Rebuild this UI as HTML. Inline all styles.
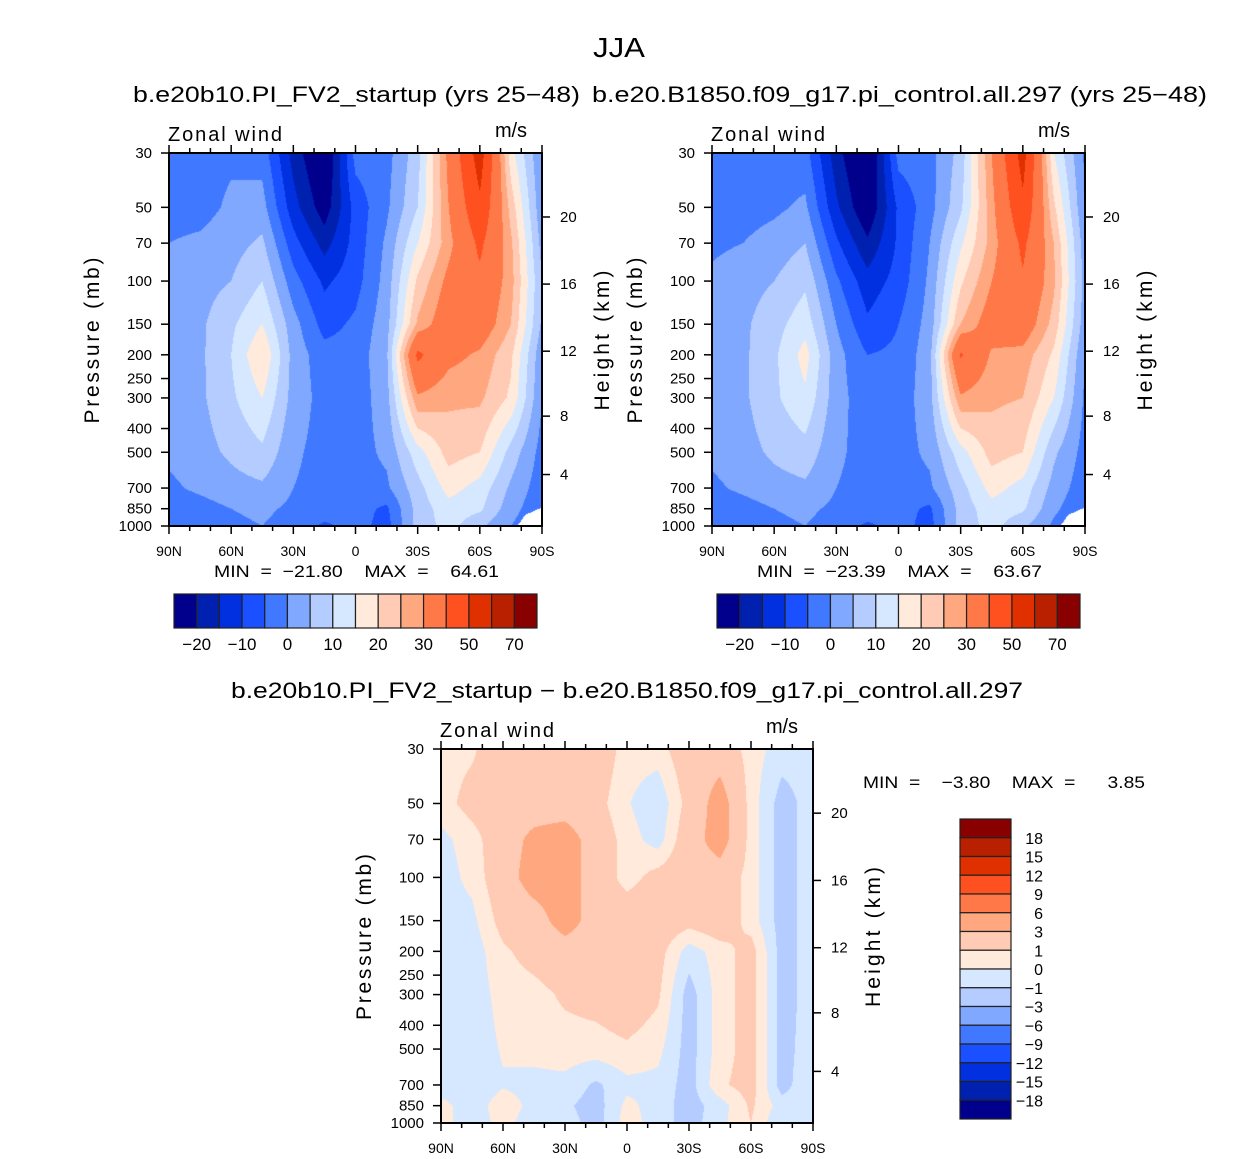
<!DOCTYPE html>
<html><head><meta charset="utf-8"><style>
body{margin:0;background:#fff;}
#wrap{position:relative;width:1256px;height:1159px;overflow:hidden;background:#fff;}
canvas{position:absolute;}
svg{position:absolute;left:0;top:0;}
text{font-family:"Liberation Sans",sans-serif;fill:#000;white-space:pre;}
</style></head><body>
<div id="wrap">
<canvas id="c1" style="left:169px;top:153px" width="373" height="373"></canvas>
<canvas id="c2" style="left:712px;top:153px" width="373" height="373"></canvas>
<canvas id="c3" style="left:441px;top:749px" width="372" height="374"></canvas>
<svg id="s" width="1256" height="1159">
<text x="619" y="57" font-size="28" text-anchor="middle" textLength="52" lengthAdjust="spacingAndGlyphs">JJA</text>
<text x="133" y="102" font-size="22" textLength="447" lengthAdjust="spacingAndGlyphs">b.e20b10.PI_FV2_startup (yrs 25−48)</text>
<text x="592" y="102" font-size="22" textLength="615" lengthAdjust="spacingAndGlyphs">b.e20.B1850.f09_g17.pi_control.all.297 (yrs 25−48)</text>
<text x="231" y="698" font-size="22" textLength="792" lengthAdjust="spacingAndGlyphs">b.e20b10.PI_FV2_startup − b.e20.B1850.f09_g17.pi_control.all.297</text>
<text x="214" y="577" font-size="17" textLength="285" lengthAdjust="spacingAndGlyphs">MIN  =  −21.80    MAX  =    64.61</text>
<text x="757" y="577" font-size="17" textLength="285" lengthAdjust="spacingAndGlyphs">MIN  =  −23.39    MAX  =    63.67</text>
<text x="863" y="788" font-size="17" textLength="282" lengthAdjust="spacingAndGlyphs">MIN  =    −3.80    MAX  =      3.85</text>
</svg>
</div>
<script>
// ---- data ----
const LATS=[90,75,60,45,30,15,0,-15,-30,-45,-60,-75,-90];
const PRES=[30,50,70,100,150,200,300,500,700,850,1000];
const U_CASE=[
[-2,-2,-1,-2,-17,-27,-3,-2,8,32,55,17,0],
[-2,-2,1,2,-13,-23,-8,-1,10,30,48,23,1],
[0,1,3,6,-8,-17,-8,1,15,28,42,26,3],
[2,3,5,10,-3,-11,-7,2,21,32,38,27,5],
[2,4,9,15,2,-7,-4,3,26,35,35,25,4],
[2,4,10,20,3,-3,-3,4,42,32,29,21,1],
[2,4,9,15,3,-2,-3,3,29,26,26,19,0],
[1,3,6,9,1,-2,-2,1,13,22,20,8,-2],
[-1,1,3,4,0,-2,-2,-1,8,17,13,4,-3],
[-3,-2,0,1,-1,-2,-3,-6,7,13,11,2,-4],
[-2,-3,-1,0,-2,-6,-3,-7,7,12,6,0,-5]];
const U_CTRL=[
[-3,-2,-2,-3,-18,-28,-3,-2,7,30,54,15,-1],
[-3,-2,-1,1,-14,-25,-9,-2,9,28,48,21,0],
[-1,0,2,5,-9,-19,-9,0,14,27,42,25,2],
[1,3,5,9,-4,-13,-8,1,19,30,39,26,3],
[2,4,8,13,0,-9,-5,2,25,34,35,23,2],
[2,4,9,17,2,-5,-4,3,41,29,28,19,0],
[2,4,9,14,2,-3,-3,3,29,26,25,15,-1],
[1,3,6,8,1,-2,-2,1,13,22,20,6,-2],
[-1,1,3,4,0,-2,-2,-1,8,17,13,3,-3],
[-3,-2,0,1,-1,-2,-3,-6,7,13,11,1,-4],
[-2,-3,-1,0,-2,-6,-3,-7,7,12,6,-1,-5]];
const U_DIFF=[
[0.5,0.8,2,2,2,2,0.5,0.5,2,2,0.5,-0.5,-0.5],
[0.5,1.5,2,2,2,1.5,0.1,-0.8,1.5,4,0.5,-1.5,-0.5],
[-0.3,0.5,2,3.5,4,2,0.5,-0.5,2,4,0.5,-1.5,-0.5],
[-0.5,0.3,2,4,4,2,0.5,1.5,2,2,0.5,-1.5,-0.5],
[-0.5,-0.3,1.5,2,4,2,2,2,1.5,2,0.5,-1.5,-0.5],
[-0.5,-0.6,0.8,1.5,2,2,2,1.5,-0.5,0.5,1.5,-1.5,-0.5],
[-0.5,-0.6,0.4,0.6,1.2,1.5,2,1.2,-1.5,0.5,1.5,-1.5,-0.5],
[-0.5,-0.6,0.1,0.3,0.5,0.5,0.8,0.3,-1.5,0.5,1.5,-1.5,-0.3],
[-0.5,-0.6,-0.1,-0.3,-0.3,-1.2,-0.3,-0.3,-1.5,0.8,1.5,-1.5,0],
[0.3,-0.5,0.5,-0.3,-0.8,-1.5,0.3,-0.5,-1.5,-0.5,1.2,-0.5,0],
[0.3,-0.5,0.3,-0.5,-0.5,-1.5,0.5,-0.5,-1.5,-0.3,1,-1,0]];
const LEV_ABS=[-20,-15,-10,-5,0,5,10,15,20,25,30,40,50,60,70];
const LEV_DIFF=[-18,-15,-12,-9,-6,-3,-1,0,1,3,6,9,12,15,18];
const LBL_ABS=["−20","−10","0","10","20","30","50","70"];
const LBL_DIFF=["18","15","12","9","6","3","1","0","−1","−3","−6","−9","−12","−15","−18"];
const P_TICKS=[30,50,70,100,150,200,250,300,400,500,700,850,1000];
const Z_TICKS=[4,8,12,16,20];
const LAT_TICKS=[90,60,30,0,-30,-60,-90];
const LAT_LABELS=["90N","60N","30N","0","30S","60S","90S"];
const SURF_LAT=[-78,-82,-86,-90];
const SURF_P=[1000,900,870,840];
const COLORS=["#00008c","#0021b0","#0030e0","#1a50ff","#4078ff","#80a8ff","#b4ccff","#d6e8ff","#ffeadb","#ffcbb4","#ffa880","#ff7848","#ff5020","#e03000","#b82000","#880000"];
// ---- helpers ----
const L30=Math.log(30),LR=Math.log(1000/30);
function hex(c){return [parseInt(c.substr(1,2),16),parseInt(c.substr(3,2),16),parseInt(c.substr(5,2),16)];}
const RGB=COLORS.map(hex);
const LOGP=PRES.map(p=>Math.log(p));
function sample(grid,lat,p){
  let fi=(90-lat)/15; let i=Math.min(11,Math.max(0,Math.floor(fi))); let tx=fi-i;
  const lp=Math.log(p); let j=0; while(j<PRES.length-2&&lp>LOGP[j+1])j++;
  let ty=(lp-LOGP[j])/(LOGP[j+1]-LOGP[j]); ty=Math.max(0,Math.min(1,ty));
  const a=grid[j][i],b=grid[j][i+1],c=grid[j+1][i],d=grid[j+1][i+1];
  return (a*(1-tx)+b*tx)*(1-ty)+(c*(1-tx)+d*tx)*ty;
}
function surfP(lat){
  if(lat>SURF_LAT[0])return 2000;
  for(let k=0;k<SURF_LAT.length-1;k++){if(lat<=SURF_LAT[k]&&lat>=SURF_LAT[k+1]){const t=(SURF_LAT[k]-lat)/(SURF_LAT[k]-SURF_LAT[k+1]);return SURF_P[k]+(SURF_P[k+1]-SURF_P[k])*t;}}
  return SURF_P[SURF_P.length-1];
}
function drawField(id,grid,lev,mask){
  const cv=document.getElementById(id),ctx=cv.getContext('2d');const W=cv.width,H=cv.height;
  const img=ctx.createImageData(W,H);
  for(let y=0;y<H;y++){const p=Math.exp(L30+(y+0.5)/H*LR);
    for(let x=0;x<W;x++){const lat=90-(x+0.5)/W*180;const o=(y*W+x)*4;
      if(mask&&p>surfP(lat)){img.data[o]=255;img.data[o+1]=255;img.data[o+2]=255;img.data[o+3]=255;continue;}
      const v=sample(grid,lat,p);let k=0;while(k<lev.length&&v>=lev[k])k++;
      const c=RGB[k];img.data[o]=c[0];img.data[o+1]=c[1];img.data[o+2]=c[2];img.data[o+3]=255;}}
  ctx.putImageData(img,0,0);
}
const S=document.getElementById('s');const NS='http://www.w3.org/2000/svg';
function mk(tag,attrs,parent){const e=document.createElementNS(NS,tag);for(const k in attrs)e.setAttribute(k,attrs[k]);(parent||S).appendChild(e);return e;}
function txt(x,y,s,size,anchor,parent){const e=mk('text',{x:x,y:y,'font-size':size,'text-anchor':anchor||'start'},parent);e.textContent=s;return e;}
function zToP(z){const m=z*1000;return m<11000?1013.25*Math.pow(1-2.25577e-5*m,5.25588):226.32*Math.exp(-(m-11000)/6341.6);}
function axes(P,name){
  const g=mk('g',{});
  
  
  const xOf=lat=>P.x+(90-lat)/180*P.w, yOf=p=>P.y+Math.log(p/30)/LR*P.h;
  mk('rect',{x:P.x,y:P.y,width:P.w,height:P.h,fill:'none',stroke:'#000','stroke-width':2},g);
  for(let lat=90;lat>=-90;lat-=10){const major=lat%30===0;const L=major?8:5;const x=xOf(lat);
    mk('line',{x1:x,y1:P.y,x2:x,y2:P.y-L,stroke:'#000','stroke-width':1.5},g);
    mk('line',{x1:x,y1:P.y+P.h,x2:x,y2:P.y+P.h+L,stroke:'#000','stroke-width':1.5},g);}
  LAT_TICKS.forEach((lat,i)=>{const t=txt(xOf(lat),P.y+P.h+30,LAT_LABELS[i],14,'middle',g);
    });
  P_TICKS.forEach(p=>{const y=yOf(p);mk('line',{x1:P.x,y1:y,x2:P.x-8,y2:y,stroke:'#000','stroke-width':1.5},g);
    const t=txt(P.x-17,y+5,String(p),15,'end',g);});
  Z_TICKS.forEach(z=>{const y=yOf(zToP(z));mk('line',{x1:P.x+P.w,y1:y,x2:P.x+P.w+8,y2:y,stroke:'#000','stroke-width':1.5},g);
    const t=txt(P.x+P.w+18,y+5,String(z),15,'start',g);});
  const cy=P.y+P.h/2+1;
  const pt=txt(0,0,'Pressure (mb)',21,'middle',g);pt.setAttribute('transform','translate('+(P.x-70)+','+cy+') rotate(-90)');pt.setAttribute('textLength','166');
  
  const ht=txt(0,0,'Height (km)',21,'middle',g);ht.setAttribute('transform','translate('+(P.x+P.w+67)+','+cy+') rotate(-90)');ht.setAttribute('textLength','140');
  
  const zw=txt(P.x-1,P.y-12,'Zonal wind',20,'start',g);zw.setAttribute('textLength','114');
  
  const ms=txt(P.x+P.w-15,P.y-16,'m/s',20,'end',g);ms.setAttribute('textLength','32');
  
}
function hbar(x0,y0,w,h,name){
  const g=mk('g',{});
  const bw=w/COLORS.length;
  COLORS.forEach((c,i)=>{const r=mk('rect',{x:x0+i*bw,y:y0,width:bw,height:h,fill:c,stroke:'#222','stroke-width':1.2},g);
    });
  LBL_ABS.forEach((s,i)=>{const t=txt(x0+(2*i+1)*bw,y0+h+22,s,17,'middle',g);});
}
function vbar(x0,y0,w,h,name){
  const g=mk('g',{});
  const bh=h/COLORS.length;
  COLORS.slice().reverse().forEach((c,i)=>{const r=mk('rect',{x:x0,y:y0+i*bh,width:w,height:bh,fill:c,stroke:'#222','stroke-width':1.2},g);
    });
  LBL_DIFF.forEach((s,i)=>{const t=txt(x0+w+32,y0+(i+1)*bh+6,s,16,'end',g);});
}
drawField('c1',U_CASE,LEV_ABS,true);
drawField('c2',U_CTRL,LEV_ABS,true);
drawField('c3',U_DIFF,LEV_DIFF,false);
axes({x:169,y:153,w:373,h:373},'left-panel');
axes({x:712,y:153,w:373,h:373},'right-panel');
axes({x:441,y:749,w:372,h:374},'difference-panel');
hbar(174,594,363,34,'left-colorbar');
hbar(717,594,363,34,'right-colorbar');
vbar(960,819,51,300,'difference-colorbar');
</script>
</body></html>
